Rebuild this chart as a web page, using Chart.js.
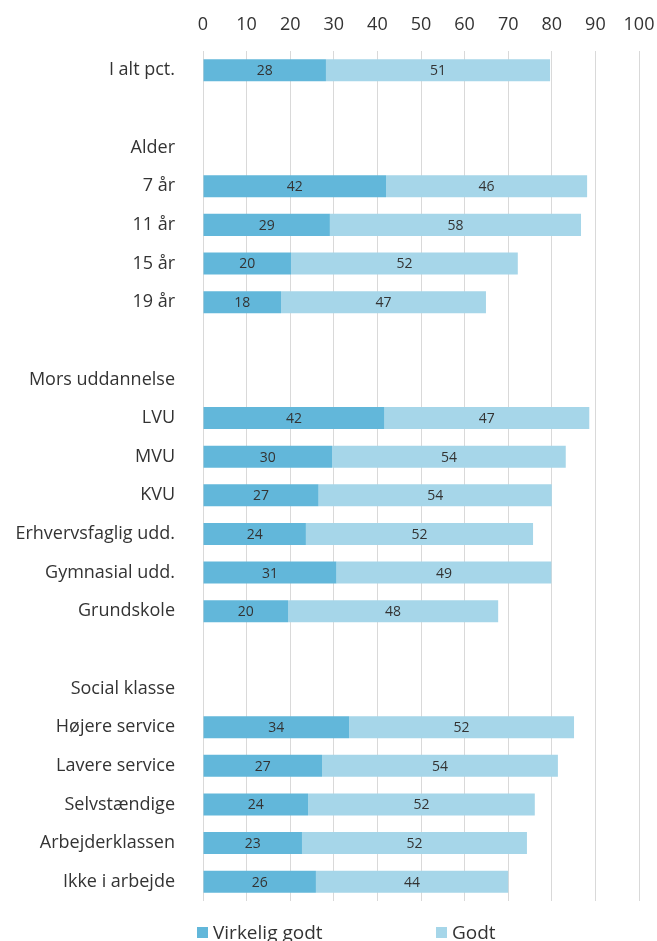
<!DOCTYPE html>
<html><head><meta charset="utf-8">
<script src="https://cdn.jsdelivr.net/npm/chart.js@4"></script>
<style>html,body{margin:0;padding:0;background:#fff;overflow:hidden}#wrap{width:657px;height:941px;position:relative}</style>
</head><body><div id="wrap"><canvas id="c" width="657" height="941"></canvas></div>
<script>
const categories = ["I alt pct.", "", "Alder", "7 år", "11 år", "15 år", "19 år", "", "Mors uddannelse", "LVU", "MVU", "KVU", "Erhvervsfaglig udd.", "Gymnasial udd.", "Grundskole", "", "Social klasse", "Højere service", "Lavere service", "Selvstændige", "Arbejderklassen", "Ikke i arbejde"];
const virkeligGodt = [28.2, null, null, 42.0, 29.1, 20.2, 17.9, null, null, 41.6, 29.6, 26.5, 23.6, 30.6, 19.5, null, null, 33.5, 27.3, 24.1, 22.7, 25.9];
const godt = [51.4, null, null, 46.1, 57.6, 52.0, 47.0, null, null, 47.0, 53.6, 53.5, 52.1, 49.3, 48.2, null, null, 51.6, 54.1, 52.0, 51.6, 44.1];
const xTicks = [0, 10, 20, 30, 40, 50, 60, 70, 80, 90, 100];
const seriesNames = ["Virkelig godt", "Godt"];
const colors = ["#62b7da", "#a6d6e9"];
const FONT = "'Open Sans', 'DejaVu Sans', sans-serif";

const labelPlugin = {
  id: 'barLabels',
  afterDatasetsDraw(chart) {
    const ctx = chart.ctx;
    ctx.save();
    ctx.font = "14px " + FONT;
    ctx.fillStyle = "#333333";
    ctx.textAlign = "center";
    ctx.textBaseline = "middle";
    chart.data.datasets.forEach((ds, di) => {
      const meta = chart.getDatasetMeta(di);
      meta.data.forEach((el, i) => {
        const v = ds.data[i];
        if (v == null) return;
        const cx = (el.x + el.base) / 2;
        ctx.fillText(String(Math.round(v)), cx, el.y + 1);
      });
    });
    ctx.restore();
  }
};

const legendPlugin = {
  id: 'customLegend',
  afterDraw(chart) {
    const ctx = chart.ctx;
    ctx.save();
    ctx.font = "19px " + FONT;
    ctx.textBaseline = "alphabetic";
    ctx.textAlign = "left";
    const pos = [197, 436];
    seriesNames.forEach((n, i) => {
      ctx.fillStyle = colors[i];
      ctx.fillRect(pos[i], 927, 11, 11);
      ctx.fillStyle = "#333333";
      ctx.fillText(n, pos[i] + 16, 939);
    });
    ctx.restore();
  }
};

new Chart(document.getElementById('c'), {
  type: 'bar',
  data: {
    labels: categories,
    datasets: [
      { label: seriesNames[0], data: virkeligGodt, backgroundColor: colors[0], barPercentage: 0.57, categoryPercentage: 1 },
      { label: seriesNames[1], data: godt, backgroundColor: colors[1], barPercentage: 0.57, categoryPercentage: 1 }
    ]
  },
  options: {
    indexAxis: 'y',
    responsive: false,
    animation: false,
    devicePixelRatio: 1,
    layout: { padding: { left: 0, right: 18, top: 0, bottom: 40 } },
    plugins: { legend: { display: false }, tooltip: { enabled: false } },
    scales: {
      x: {
        position: 'top', stacked: true, min: 0, max: 100,
        afterBuildTicks(s) { s.ticks = xTicks.map(v => ({ value: v })); },
        afterFit(s) { s.height = 51; s.paddingRight = 0; s.paddingLeft = 0; },
        grid: { color: '#d9d9d9', drawTicks: false },
        border: { display: false },
        ticks: { font: { size: 18, family: FONT }, color: '#333333', padding: 15 }
      },
      y: {
        stacked: true,
        afterFit(s) { s.width = 203; },
        grid: { display: false, drawTicks: false },
        border: { display: false },
        ticks: { font: { size: 18, family: FONT }, color: '#333333', padding: 28, autoSkip: false }
      }
    }
  },
  plugins: [labelPlugin, legendPlugin]
});
</script></body></html>
